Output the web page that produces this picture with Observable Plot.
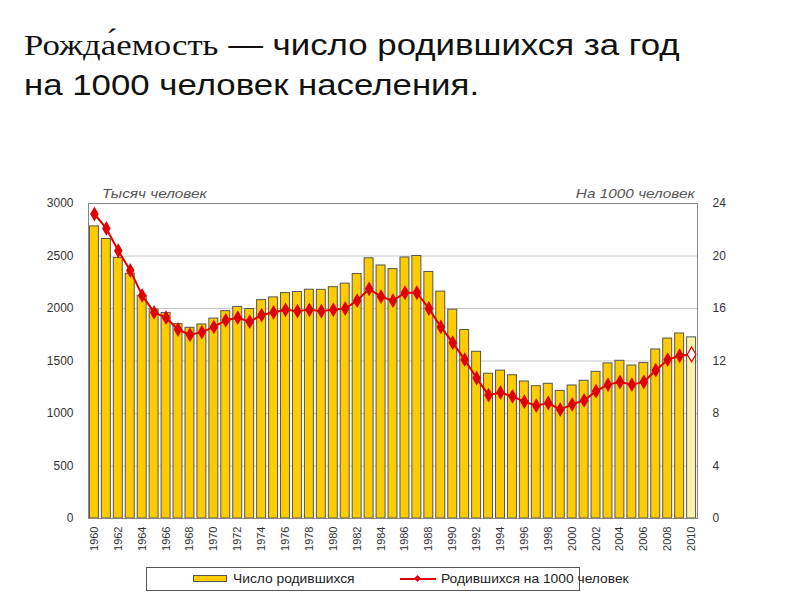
<!DOCTYPE html>
<html><head><meta charset="utf-8">
<script src="https://cdn.jsdelivr.net/npm/d3@7"></script>
<script src="https://cdn.jsdelivr.net/npm/@observablehq/plot@0.6"></script>
<style>
body{margin:0;background:#fff;width:800px;height:600px;position:relative;overflow:hidden;font-family:"Liberation Sans",Arial,sans-serif}
#title{position:absolute;left:24px;top:25px;font-size:30px;line-height:40px;color:#111;white-space:nowrap;transform:scaleX(1.16);transform-origin:0 0}
#title .serif{font-family:"Liberation Serif","Times New Roman","DejaVu Serif",serif;font-size:30px}
#chart{position:absolute;left:0;top:150px}
.alab{position:absolute;top:186px;font-size:13px;font-style:italic;color:#555;white-space:nowrap;transform:scaleX(1.18)}
#legend{position:absolute;left:146px;top:567px;width:432px;height:22px;border:1px solid #555;font-size:12px;color:#222}
#legend .sw{position:absolute;left:46px;top:7px;width:32px;height:5px;background:#ffcc00;border:1px solid #555}
#legend .t{position:absolute;top:4px;white-space:nowrap;transform:scaleX(1.15);transform-origin:0 0}
#legend .ln{position:absolute;left:253px;top:10px;width:36px;height:2px;background:#e00000}
#legend .dm{position:absolute;left:268px;top:8px;width:5px;height:5px;background:#e00000;transform:rotate(45deg)}
</style></head><body>
<div id="title"><span class="serif">Рожда&#769;емость</span>&nbsp;— число родившихся за год<br>на 1000 человек населения.</div>
<div class="alab" style="left:102px;transform-origin:0 0">Тысяч человек</div>
<div class="alab" style="right:105px;transform-origin:100% 0">На 1000 человек</div>
<div id="chart"></div>
<div id="legend"><div class="sw"></div><div class="t" style="left:86px">Число родившихся</div><div class="ln"></div><div class="dm"></div><div class="t" style="left:294px">Родившихся на 1000 человек</div></div>
<script>
const years = [1960,1961,1962,1963,1964,1965,1966,1967,1968,1969,1970,1971,1972,1973,1974,1975,1976,1977,1978,1979,1980,1981,1982,1983,1984,1985,1986,1987,1988,1989,1990,1991,1992,1993,1994,1995,1996,1997,1998,1999,2000,2001,2002,2003,2004,2005,2006,2007,2008,2009,2010];
const births = [2782,2662,2482,2331,2121,1990,1958,1851,1816,1848,1904,1975,2015,1995,2080,2106,2147,2157,2179,2178,2203,2237,2328,2478,2410,2375,2486,2500,2348,2161,1989,1795,1588,1379,1408,1364,1305,1260,1283,1215,1267,1312,1397,1477,1502,1457,1480,1610,1714,1762,1725];
const rates = [23.2,22.1,20.4,18.9,17.0,15.7,15.3,14.4,14.0,14.2,14.6,15.1,15.3,15.0,15.5,15.7,15.9,15.8,15.9,15.8,15.9,16.0,16.6,17.5,16.9,16.6,17.2,17.2,16.0,14.6,13.4,12.1,10.7,9.4,9.6,9.3,8.9,8.6,8.8,8.3,8.7,9.0,9.7,10.2,10.4,10.2,10.4,11.3,12.1,12.4,12.5];
const preliminaryYear = 2010;
const leftTicks = [0,500,1000,1500,2000,2500,3000];
const rightTicks = [0,4,8,12,16,20,24];
const xTickYears = years.filter(y => y % 2 === 0);

const k = 3000 / 24;
const data = years.map((y, i) => ({year: y, births: births[i], rate: rates[i], prelim: y === preliminaryYear}));

const chart = Plot.plot({
  width: 800, height: 420,
  marginLeft: 88, marginRight: 103, marginTop: 53, marginBottom: 52,
  style: {fontFamily: "'Liberation Sans', Arial, sans-serif", fontSize: "11px", color: "#333", background: "transparent"},
  x: {type: "band", domain: years, paddingInner: 0.25, paddingOuter: 0.12},
  y: {domain: [0, 3000]},
  marks: [
    Plot.gridY(leftTicks, {stroke: "#c8c8c8", strokeOpacity: 1}),
    Plot.barY(data, {x: "year", y: "births", fill: d => d.prelim ? "#fff2a8" : "#ffcc00", stroke: "#555", strokeWidth: 1}),
    Plot.frame({stroke: "#888"}),
    Plot.line(data, {x: "year", y: d => d.rate * k, stroke: "#e00000", strokeWidth: 2}),
    Plot.dot(data.filter(d => !d.prelim), {x: "year", y: d => d.rate * k, symbol: "diamond", r: 4.5, fill: "#e00000"}),
    Plot.dot(data.filter(d => d.prelim), {x: "year", y: d => d.rate * k, symbol: "diamond", r: 4.5, fill: "#fff", stroke: "#e00000", strokeWidth: 1.2}),
    Plot.axisY(leftTicks, {anchor: "left", tickSize: 0, tickPadding: 15, label: null, tickFormat: d => String(d), fontSize: 12}),
    Plot.axisY(rightTicks.map(v => v * k), {anchor: "right", tickSize: 0, tickPadding: 15, label: null, tickFormat: d => String(Math.round(d / k)), fontSize: 12}),
    Plot.axisX(xTickYears, {anchor: "bottom", tickSize: 0, tickPadding: 8, tickRotate: -90, label: null, tickFormat: d => String(d), fontSize: 11})
  ]
});
document.getElementById("chart").appendChild(chart);
</script>
</body></html>
